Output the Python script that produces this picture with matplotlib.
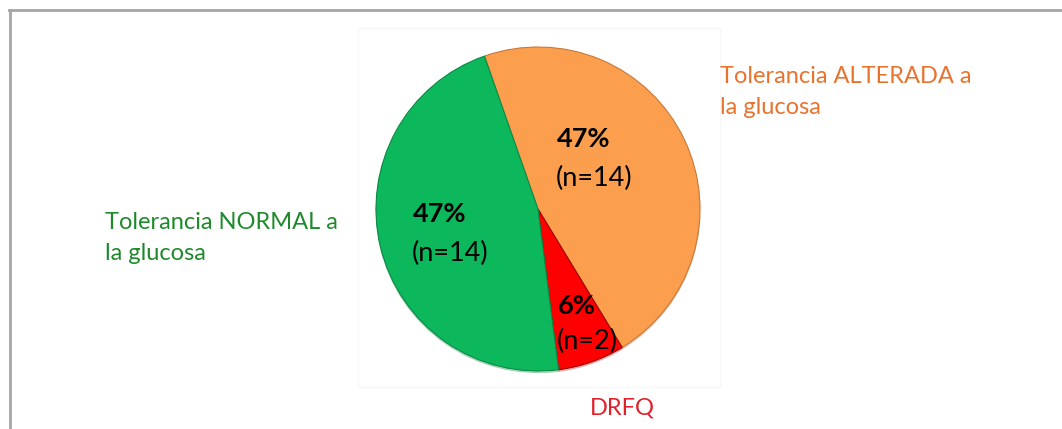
import matplotlib.pyplot as plt
from matplotlib.patches import Rectangle

# data
categories = ["Tolerancia ALTERADA a\nla glucosa", "DRFQ", "Tolerancia NORMAL a\nla glucosa"]
counts = [14, 2, 14]
percent_labels = ["47%", "6%", "47%"]

slice_colors = ["#FB9F4E", "#FE0000", "#0DB75C"]
edge_colors = ["#C8783A", "#A00000", "#0A8A45"]
text_colors = ["#E8732E", "#E0202A", "#1F8A2C"]

plt.rcParams["font.family"] = ["Lato", "DejaVu Sans"]

fig = plt.figure(figsize=(10.62, 4.29), dpi=100)
ax = fig.add_axes([0, 0, 1, 1])

H = 429
cx, cy, r = 538, H - 209, 162

# faint plot-area box
ax.add_patch(Rectangle((358, H - 387), 362, 359, facecolor="white",
                       edgecolor="#f8f8f8", linewidth=1, zorder=0))

wedges, _ = ax.pie(counts, colors=slice_colors, startangle=109.3,
                   counterclock=False, center=(cx, cy), radius=r,
                   shadow={"ox": 0.0, "oy": -1.2, "shade": 0.3, "alpha": 0.25},
                   wedgeprops=dict(linewidth=0.8))
for w, ec in zip(wedges, edge_colors):
    w.set_edgecolor(ec)

ax.set_xlim(0, 1062)
ax.set_ylim(0, H)
ax.set_aspect("auto")
ax.axis("off")

# frame lines (top and left)
ax.plot([9, 1062], [H - 10, H - 10], color="#a6a6a6", linewidth=2, clip_on=False)
ax.plot([10, 10], [H - 10, 0], color="#a6a6a6", linewidth=2, clip_on=False)

# labels inside slices
inner_pos = [(557, 139, 39), (558, 306, 35), (413, 214, 39)]
for (x, y, dy), pct, n, in zip(inner_pos, percent_labels, counts):
    ax.text(x, H - y, pct, fontsize=19.5, fontweight="bold", color="black",
            ha="left", va="center")
    ax.text(x - 1, H - y - dy, "(n=%d)" % n, fontsize=19.5, color="black",
            ha="left", va="center")

# outer category labels
ax.text(720, H - 92, categories[0], fontsize=17, color=text_colors[0],
        ha="left", va="center", linespacing=1.58)
ax.text(622, H - 408, categories[1], fontsize=17, color=text_colors[1],
        ha="center", va="center")
ax.text(105, H - 238, categories[2], fontsize=17, color=text_colors[2],
        ha="left", va="center", linespacing=1.6)

fig.savefig("out.png", dpi=100)
